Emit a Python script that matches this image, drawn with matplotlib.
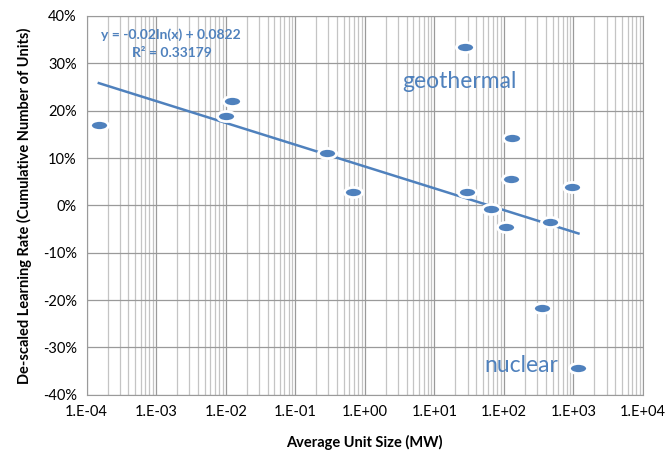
import numpy as np
import matplotlib
matplotlib.use("Agg")
import matplotlib.pyplot as plt
from matplotlib.path import Path
from matplotlib.transforms import Affine2D
from matplotlib.ticker import FixedLocator, FuncFormatter, LogLocator, NullFormatter

plt.rcParams['font.family'] = ['Lato', 'DejaVu Sans']

# average unit size (MW) and de-scaled learning rate
unit_size = [1.5e-4, 0.0100, 0.0122, 0.286, 0.67, 27.7, 29.5, 65, 107, 132, 126, 454, 968, 349, 1180]
learning_rate = [0.170, 0.189, 0.220, 0.111, 0.028, 0.334, 0.028, -0.007, -0.045, 0.142, 0.056,
                 -0.035, 0.039, -0.217, -0.343]

# log fit reported in the chart
fit_a = -0.02
fit_b = 0.0822
fit_r2 = 0.33179

x_ticks = [1e-4, 1e-3, 1e-2, 1e-1, 1e0, 1e1, 1e2, 1e3, 1e4]
y_ticks = [-0.4, -0.3, -0.2, -0.1, 0.0, 0.1, 0.2, 0.3, 0.4]

blue = '#4F81BD'

fig = plt.figure(figsize=(6.66, 4.57), dpi=100)
ax = fig.add_axes([0.130, 0.136, 0.8355, 0.829])

ax.set_xscale('log')
ax.set_xlim(1e-4, 1e4)
ax.set_ylim(-0.4, 0.4)

ax.xaxis.set_major_locator(FixedLocator(x_ticks))
ax.xaxis.set_minor_locator(LogLocator(base=10, subs=np.arange(2, 10), numticks=100))
ax.xaxis.set_minor_formatter(NullFormatter())
ax.xaxis.set_major_formatter(FuncFormatter(lambda v, p: '1.E%+03d' % int(round(np.log10(v)))))
ax.yaxis.set_major_locator(FixedLocator(y_ticks))
ax.yaxis.set_major_formatter(FuncFormatter(lambda v, p: '%d%%' % int(round(v * 100))))

ax.grid(True, which='major', axis='both', color='#9a9a9a', lw=0.9)
ax.grid(True, which='minor', axis='x', color='#c4c4c4', lw=0.9)
ax.set_axisbelow(True)
ax.tick_params(which='both', length=0, labelsize=10.5, pad=7)
for s in ax.spines.values():
    s.set_color('#9a9a9a')

# trendline over the data range
xs = np.logspace(np.log10(min(unit_size)), np.log10(max(unit_size)), 200)
ax.plot(xs, fit_a * np.log(xs) + fit_b, color=blue, lw=1.8, zorder=2)

# flattened elliptical markers with a white halo
ell = Path.unit_circle().transformed(Affine2D().scale(1.8, 1.0))
ax.scatter(unit_size, learning_rate, marker=ell, s=170, color=blue, edgecolors='white',
           linewidths=2, zorder=3)

ax.text(0.152, 0.950, 'y = -0.02ln(x) + 0.0822', transform=ax.transAxes, color=blue,
        fontsize=10, fontweight='bold', ha='center', va='center')
ax.text(0.154, 0.903, 'R² = %.5f' % fit_r2, transform=ax.transAxes, color=blue,
        fontsize=10, fontweight='bold', ha='center', va='center')

ax.text(3.4, 0.262, 'geothermal', color=blue, fontsize=16.5, ha='left', va='center')
ax.text(53, -0.337, 'nuclear', color=blue, fontsize=16.5, ha='left', va='center')

ax.set_xlabel('Average Unit Size (MW)', fontsize=10.5, fontweight='bold', labelpad=12)
ax.set_ylabel('De-scaled Learning Rate (Cumulative Number of Units)', fontsize=10.5,
              fontweight='bold', labelpad=8)

fig.savefig('out.png', dpi=100)
